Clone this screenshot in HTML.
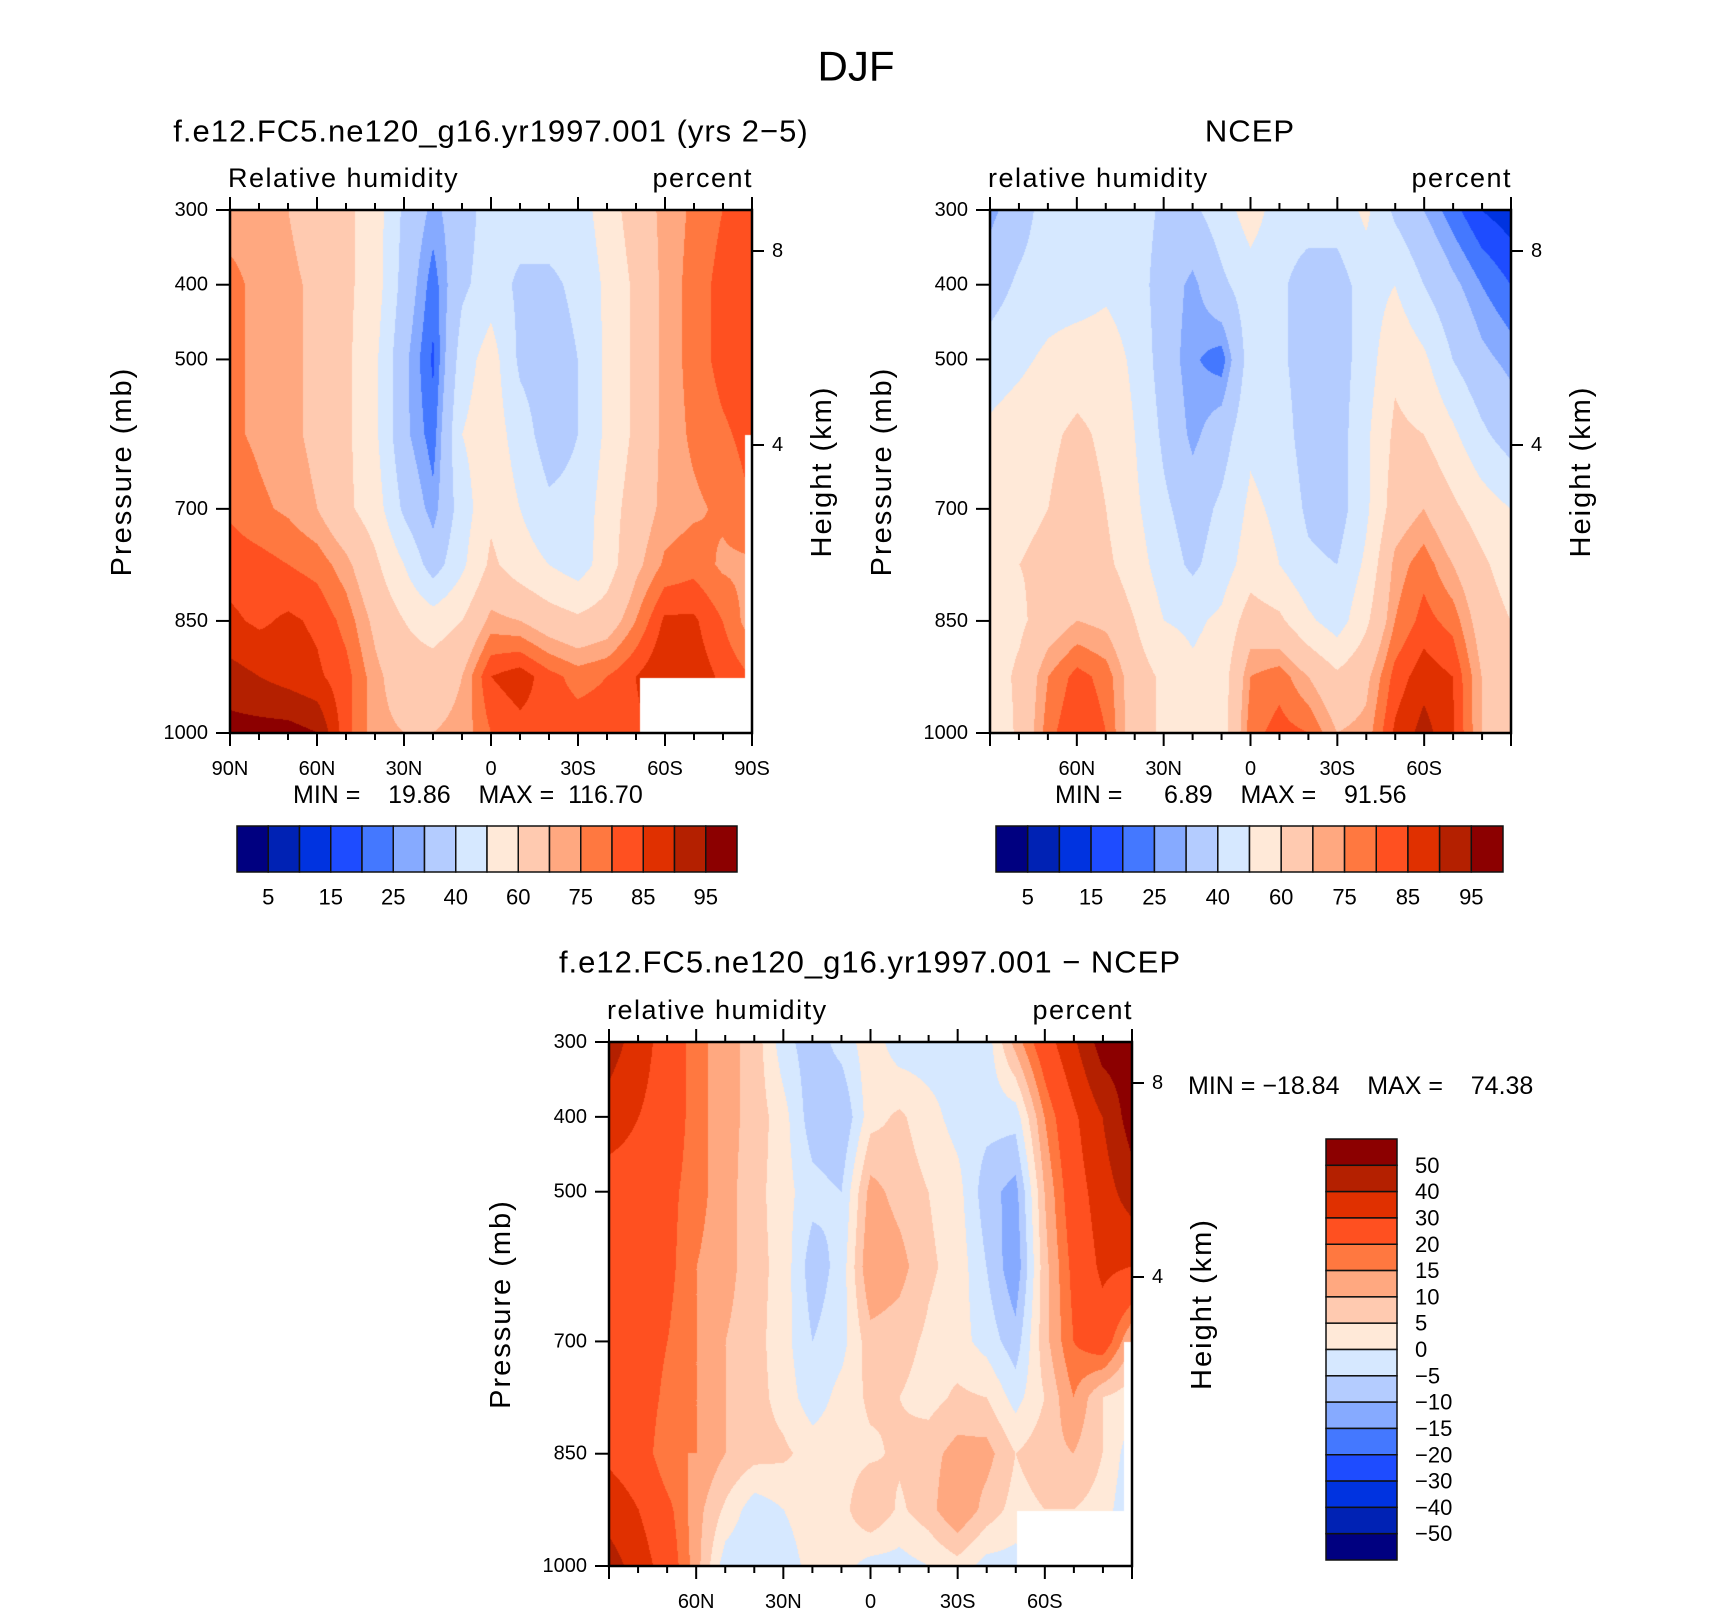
<!DOCTYPE html>
<html><head><meta charset="utf-8">
<style>
html,body{margin:0;padding:0;background:#fff;}
#wrap{position:relative;width:1710px;height:1610px;overflow:hidden;font-family:"Liberation Sans",sans-serif;}
canvas{position:absolute;}
svg{position:absolute;left:0;top:0;}
text{font-family:"Liberation Sans",sans-serif;fill:#000;white-space:pre;}
</style></head>
<body>
<div id="wrap">
<canvas id="c1" style="left:230px;top:210px" width="522" height="523"></canvas>
<canvas id="c2" style="left:990px;top:210px" width="521" height="523"></canvas>
<canvas id="c3" style="left:609px;top:1042px" width="523" height="524"></canvas>
<svg id="ov" width="1710" height="1610"></svg>
</div>
<script>
// ---- data ----
const pressures=[300,400,500,600,700,775,850,925,1000];
const lats=[90,80,70,60,50,40,30,20,10,0,-10,-20,-30,-40,-50,-60,-70,-80,-90];
const rhLevels=[5,10,15,20,25,30,40,50,60,70,75,80,85,90,95];
const rhLabels=["5","15","25","40","60","75","85","95"];
const diffLevels=[-50,-40,-30,-20,-15,-10,-5,0,5,10,15,20,30,40,50];
const diffLabels=["50","40","30","20","15","10","5","0","−5","−10","−15","−20","−30","−40","−50"];
const colors=["#000080","#0022b4","#0033e0","#1e4cff","#4478ff","#86aaff","#b4ccff","#d6e8ff","#ffe9d8","#ffcab0","#ffa880","#ff7840","#ff5020","#e03000","#b42000","#8c0000"];
const model=[
[72,72,70,65,62,55,38,28,35,45,45,45,45,55,65,72,76,80,82],
[77,73,72,68,62,55,36,22,38,45,38,38,42,52,62,72,77,82,83],
[77,73,72,68,62,52,32,19,45,55,38,35,40,52,62,72,77,82,84],
[76,74,72,68,62,52,32,22,50,56,45,35,40,52,62,72,76,79,82],
[79,76,74,70,62,55,38,27,45,58,50,42,43,55,65,72,74,76,80],
[83,82,80,78,72,62,50,35,48,62,55,50,45,55,68,76,78,74,74],
[86,84,86,84,78,68,60,55,60,72,70,65,62,65,75,86,86,80,72],
[92,90,88,86,82,72,65,65,70,85,88,82,78,80,85,90,88,84,80],
[97,97,97,95,82,72,70,70,72,80,83,83,83,83,84,86,86,84,80]];
const ncep=[
[28,35,45,45,45,45,38,38,45,55,45,45,45,52,38,30,22,15,12],
[35,42,45,45,48,45,35,28,38,45,42,35,35,45,50,40,32,25,20],
[45,48,52,55,55,48,35,26,22,45,42,35,35,45,58,52,40,32,28],
[52,55,58,62,58,50,38,28,35,48,45,35,35,48,62,60,52,42,35],
[55,58,60,65,60,52,42,35,42,52,48,38,35,48,65,70,62,55,50],
[58,60,62,65,62,55,45,38,45,55,50,42,40,52,72,78,70,62,55],
[55,58,65,70,68,60,50,48,52,65,62,52,45,58,75,82,78,66,60],
[55,62,75,82,78,65,58,52,55,75,78,70,62,68,82,88,85,70,62],
[52,62,78,85,80,65,58,55,55,78,82,80,70,72,86,92,86,70,62]];
const diff=[
[45,35,25,17,12,8,-3,-8,-3,3,-3,-3,-2,-3,12,25,38,55,55],
[35,30,25,17,12,8,2,-8,-10,3,6,2,-2,-3,-3,15,28,40,55],
[25,25,22,17,12,7,2,-3,-5,12,8,5,2,-8,-12,10,25,35,45],
[25,25,22,15,12,7,3,-8,-3,15,12,6,3,-5,-14,8,22,32,30],
[25,25,20,15,10,7,2,-5,-2,8,7,4,2,-2,-8,8,20,25,10],
[25,25,18,15,10,7,3,-3,2,6,5,3,6,5,-2,5,15,5,2],
[28,25,15,15,10,7,6,3,3,4,6,8,12,12,5,8,10,5,-3],
[35,30,22,12,4,-3,0,3,3,10,4,8,15,8,3,5,5,3,-5],
[45,35,25,12,-3,-5,-3,2,2,-2,-2,0,3,-2,-2,2,2,2,-2]];

function val(grid,lat,p){
  let fi=(90-lat)/10; let i0=Math.min(17,Math.floor(fi)); let tx=fi-i0;
  let j0=0; while(j0<pressures.length-2 && p>pressures[j0+1]) j0++;
  let ty=(p-pressures[j0])/(pressures[j0+1]-pressures[j0]);
  const a=grid[j0][i0],b=grid[j0][i0+1],c=grid[j0+1][i0],d=grid[j0+1][i0+1];
  return (a*(1-tx)+b*tx)*(1-ty)+(c*(1-tx)+d*tx)*ty;
}
function hex(h){return [parseInt(h.substr(1,2),16),parseInt(h.substr(3,2),16),parseInt(h.substr(5,2),16)];}
const rgb=colors.map(hex);
function drawField(id,grid,levels,masks){
  const cv=document.getElementById(id),ctx=cv.getContext('2d');
  const w=cv.width,h=cv.height,img=ctx.createImageData(w,h);
  for(let y=0;y<h;y++){const p=300+700*y/(h-1);
    for(let x=0;x<w;x++){const lat=90-180*x/(w-1);
      const v=val(grid,lat,p); let k=0; while(k<levels.length&&v>=levels[k])k++;
      const c=rgb[k],o=(y*w+x)*4; img.data[o]=c[0];img.data[o+1]=c[1];img.data[o+2]=c[2];img.data[o+3]=255;}}
  ctx.putImageData(img,0,0);
  ctx.fillStyle='#fff';
  masks.forEach(m=>ctx.fillRect(m[0],m[1],m[2],m[3]));
}
drawField('c1',model,rhLevels,[[410,468,112,55],[515,225,7,298]]);
drawField('c2',ncep,rhLevels,[]);
drawField('c3',diff,diffLevels,[[408,469,115,55],[515,300,8,169]]);

// ---- overlay ----
const NS="http://www.w3.org/2000/svg";
const ov=document.getElementById('ov');
function el(tag,attrs,parent){const e=document.createElementNS(NS,tag);for(const k in attrs)e.setAttribute(k,attrs[k]);(parent||ov).appendChild(e);return e;}
function txt(s,x,y,size,anchor,parent,rot){const t=el('text',{x:x,y:y,'font-size':size,'text-anchor':anchor||'middle','dominant-baseline':'central'},parent);t.setAttributeNS('http://www.w3.org/XML/1998/namespace','xml:space','preserve');if(rot)t.setAttribute('transform','rotate(-90 '+x+' '+y+')');t.textContent=s;return t;}

const tt=txt('DJF',856,66,42,'middle');



const pLabels=[300,400,500,700,850,1000];
function panel(name,L,T,W,H,title,titleX,titleY,leftStr,latLabels,minmax,mmX,mmY,mmAnchor){
  const g=el('g',{});
  
  
  const yP=p=>T+H*(p-300)/700, xL=lat=>L+W*(90-lat)/180;
  el('rect',{x:L,y:T,width:W,height:H,fill:'none',stroke:'#000','stroke-width':2.5},g);
  for(let lat=90;lat>=-90;lat-=10){const major=lat%30===0;const x=xL(lat);const len=major?13:7;
    el('line',{x1:x,y1:T,x2:x,y2:T-len,stroke:'#000','stroke-width':2},g);
    el('line',{x1:x,y1:T+H,x2:x,y2:T+H+len,stroke:'#000','stroke-width':2},g);}
  latLabels.forEach(([lat,s])=>txt(s,xL(lat),T+H+36,20,'middle',g));
  pLabels.forEach(p=>{el('line',{x1:L,y1:yP(p),x2:L-14,y2:yP(p),stroke:'#000','stroke-width':2},g);txt(String(p),L-22,yP(p),20,'end',g);});
  [[8,T+41],[4,T+235]].forEach(([k,y])=>{el('line',{x1:L+W,y1:y,x2:L+W+12,y2:y,stroke:'#000','stroke-width':2},g);txt(String(k),L+W+20,y,20,'start',g);});
  const t=txt(title,titleX,titleY,31,'middle',g);
  t.setAttribute('letter-spacing','1');
  const l=txt(leftStr,L-2,T-32,27,'start',g);
  l.setAttribute('letter-spacing','1.5');
  const pc=txt('percent',L+W+1,T-32,27,'end',g);
  pc.setAttribute('letter-spacing','1.5');
  const pl=txt('Pressure (mb)',L-108,T+H/2,29,'middle',g,true);
  pl.setAttribute('letter-spacing','2');
  const hl=txt('Height (km)',L+W+70,T+H/2,29,'middle',g,true);
  hl.setAttribute('letter-spacing','2');
  txt(minmax,mmX,mmY,25,mmAnchor,g);
}
panel('model-panel',230,210,522,523,'f.e12.FC5.ne120_g16.yr1997.001 (yrs 2−5)',491,131,'Relative humidity',
  [[90,'90N'],[60,'60N'],[30,'30N'],[0,'0'],[-30,'30S'],[-60,'60S'],[-90,'90S']],
  'MIN =    19.86    MAX =  116.70',293,795,'start');
panel('ncep-panel',990,210,521,523,'NCEP',1250,131,'relative humidity',
  [[60,'60N'],[30,'30N'],[0,'0'],[-30,'30S'],[-60,'60S']],
  'MIN =      6.89    MAX =    91.56',1055,795,'start');
panel('difference-panel',609,1042,523,524,'f.e12.FC5.ne120_g16.yr1997.001 − NCEP',870,962,'relative humidity',
  [[60,'60N'],[30,'30N'],[0,'0'],[-30,'30S'],[-60,'60S']],
  'MIN = −18.84    MAX =    74.38',1188,1086,'start');

function hbar(name,x0,y0,w,h){
  const g=el('g',{});
  
  
  const bw=w/16;
  colors.forEach((c,i)=>{const r=el('rect',{x:x0+i*bw,y:y0,width:bw,height:h,fill:c,stroke:'#111','stroke-width':1.5},g);
    
    });
  rhLabels.forEach((s,i)=>txt(s,x0+bw*(2*i+1),y0+h+25,22,'middle',g));
}
hbar('model-colorbar',237,826,500,46);
hbar('ncep-colorbar',996,826,507,46);

const vg=el('g',{});


const vx=1326,vy=1139,vw=71,vh=421,bh=vh/16;
colors.slice().reverse().forEach((c,i)=>{const r=el('rect',{x:vx,y:vy+i*bh,width:vw,height:bh,fill:c,stroke:'#111','stroke-width':1.5},vg);
  
  });
diffLabels.forEach((s,i)=>txt(s,vx+vw+18,vy+bh*(i+1),22,'start',vg));
</script>
</body></html>
